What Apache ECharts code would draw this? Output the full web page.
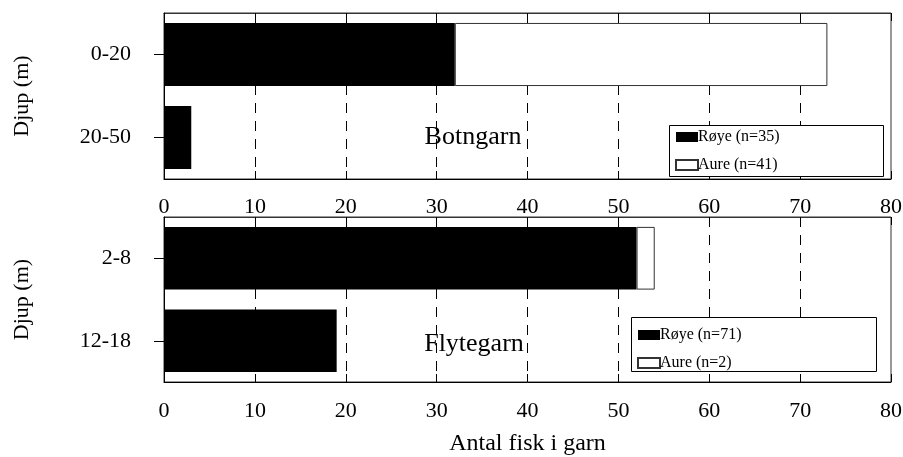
<!DOCTYPE html>
<html>
<head>
<meta charset="utf-8">
<script src="https://cdn.jsdelivr.net/npm/echarts@6/dist/echarts.min.js"></script>
<style>
html, body { margin: 0; padding: 0; background: #ffffff; }
#chart { width: 903px; height: 457px; }
</style>
</head>
<body>
<div id="chart"></div>
<script>
// Fish caught per depth band, split by species, for two net types
const botngarnDepths = ['0-20', '20-50'];
const botngarnRoye = [32, 3];
const botngarnAure = [41, 0];
const botngarnLegend = ['Røye (n=35)', 'Aure (n=41)'];

const flytegarnDepths = ['2-8', '12-18'];
const flytegarnRoye = [52, 19];
const flytegarnAure = [2, 0];
const flytegarnLegend = ['Røye (n=71)', 'Aure (n=2)'];

// Count axis: 0 to 80 in steps of 10
const countMin = 0;
const countMax = 80;
const countStep = 10;

const FONT = '"Liberation Serif", "Times New Roman", serif';
const dashGrid = { color: '#000', width: 1, type: [10, 8] };

// empty stacked segments are left undrawn
const seg = arr => arr.map(v => (v === 0 ? '-' : v));

function bottomAxis(gridIndex, labelMargin, withName) {
  const ax = {
    type: 'value', gridIndex, position: 'bottom',
    min: countMin, max: countMax, interval: countStep,
    axisLine: { show: true, lineStyle: { color: '#000', width: 1 } },
    axisTick: { show: true, inside: true, length: 8, lineStyle: { color: '#000' } },
    axisLabel: { show: true, margin: labelMargin, color: '#000', fontSize: 22, fontFamily: FONT },
    splitLine: { show: true, showMinLine: false, showMaxLine: false, lineStyle: dashGrid }
  };
  if (withName) {
    ax.name = 'Antal fisk i garn';
    ax.nameLocation = 'middle';
    ax.nameGap = 50;
    ax.nameTextStyle = { color: '#000', fontSize: 24, fontFamily: FONT };
  }
  return ax;
}

function topAxis(gridIndex) {
  return {
    type: 'value', gridIndex, position: 'top',
    min: countMin, max: countMax, interval: countStep,
    axisLine: { show: true, lineStyle: { color: '#333', width: 1 } },
    axisTick: { show: true, inside: true, length: 8, lineStyle: { color: '#000' } },
    axisLabel: { show: false },
    splitLine: { show: false }
  };
}

function depthAxis(gridIndex, cats) {
  return {
    type: 'category', gridIndex, data: cats, inverse: true,
    name: 'Djup (m)', nameLocation: 'middle', nameGap: 131,
    nameTextStyle: { color: '#000', fontSize: 22, fontFamily: FONT },
    axisLine: { show: true, lineStyle: { color: '#000', width: 1 } },
    axisTick: { show: true, alignWithLabel: true, length: 10, lineStyle: { color: '#000' } },
    axisLabel: { margin: 33, color: '#000', fontSize: 22, fontFamily: FONT },
    splitLine: { show: false }
  };
}

const royeStyle = { color: '#000000' };
const aureStyle = { color: '#ffffff', borderColor: '#333333', borderWidth: 1 };

function legendFor(names, left, top) {
  return {
    data: names, orient: 'vertical', left, top, padding: 0, z: 20,
    itemWidth: 22, itemHeight: 10, itemGap: 10, icon: 'rect',
    selectedMode: false,
    textStyle: { color: '#000', fontSize: 16, fontFamily: FONT, lineHeight: 18, padding: [0, 0, 0, -5] }
  };
}

const chart = echarts.init(document.getElementById('chart'), null, { renderer: 'canvas' });

chart.setOption({
  animation: false,
  backgroundColor: '#ffffff',
  grid: [
    { left: 164, top: 13, width: 727, height: 166, show: true, borderColor: '#333', borderWidth: 1,
      outerBoundsMode: 'none', containLabel: false },
    { left: 164, top: 217, width: 727, height: 165, show: true, borderColor: '#333', borderWidth: 1,
      outerBoundsMode: 'none', containLabel: false }
  ],
  xAxis: [
    bottomAxis(0, 17, false),
    topAxis(0),
    bottomAxis(1, 18, true),
    topAxis(1)
  ],
  yAxis: [
    depthAxis(0, botngarnDepths),
    depthAxis(1, flytegarnDepths)
  ],
  legend: [
    legendFor(botngarnLegend, 675, 128),
    legendFor(flytegarnLegend, 637, 326)
  ],
  series: [
    { name: botngarnLegend[0], type: 'bar', stack: 'botn', xAxisIndex: 0, yAxisIndex: 0,
      barCategoryGap: '24%', data: seg(botngarnRoye), itemStyle: royeStyle },
    { name: botngarnLegend[1], type: 'bar', stack: 'botn', xAxisIndex: 0, yAxisIndex: 0,
      barCategoryGap: '24%', data: seg(botngarnAure), itemStyle: aureStyle },
    { name: flytegarnLegend[0], type: 'bar', stack: 'flyt', xAxisIndex: 2, yAxisIndex: 1,
      barCategoryGap: '24%', data: seg(flytegarnRoye), itemStyle: royeStyle },
    { name: flytegarnLegend[1], type: 'bar', stack: 'flyt', xAxisIndex: 2, yAxisIndex: 1,
      barCategoryGap: '24%', data: seg(flytegarnAure), itemStyle: aureStyle }
  ],
  graphic: [
    // legend frames
    { type: 'rect', z: 5, shape: { x: 669.5, y: 125.5, width: 214, height: 51 },
      style: { fill: '#fff', stroke: '#000', lineWidth: 1 } },
    { type: 'rect', z: 5, shape: { x: 631.5, y: 317.5, width: 245, height: 54 },
      style: { fill: '#fff', stroke: '#000', lineWidth: 1 } },
    // net type labels
    { type: 'text', z: 10, x: 473, y: 137,
      style: { text: 'Botngarn', fill: '#000', font: '26px ' + FONT, align: 'center', verticalAlign: 'middle' } },
    { type: 'text', z: 10, x: 474, y: 344,
      style: { text: 'Flytegarn', fill: '#000', font: '26px ' + FONT, align: 'center', verticalAlign: 'middle' } }
  ]
});
</script>
</body>
</html>
